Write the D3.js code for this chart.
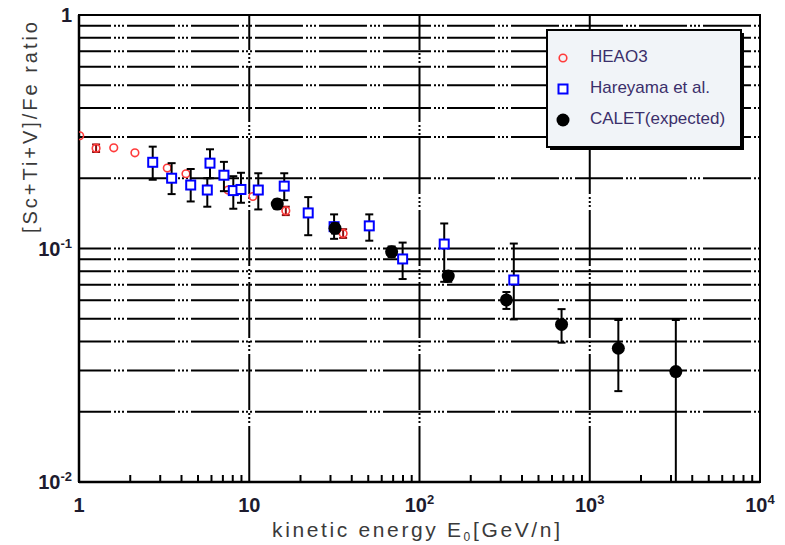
<!DOCTYPE html>
<html>
<head>
<meta charset="utf-8">
<script src="https://cdn.jsdelivr.net/npm/d3@7"></script>
<style>
  html, body { margin: 0; padding: 0; background: #fff; }
  svg { display: block; }
</style>
</head>
<body>
<svg id="chart" width="785" height="545"></svg>
<script>
// HEAO3 measurements: energy [GeV/n], ratio, symmetric error (null = none drawn)
const heaoE   = [1.01, 1.26, 1.6, 2.13, 3.3, 4.25, 5.64, 7.5, 10.5, 16.4, 35.6];
const heaoR   = [0.304, 0.269, 0.27, 0.257, 0.221, 0.209, 0.18, 0.178, 0.167, 0.145, 0.116];
const heaoErr = [null, 0.01, null, null, null, null, null, null, null, 0.006, 0.005];

// Hareyama et al.: energy, ratio, lower and upper error limits
const hareE  = [2.71, 3.5, 4.53, 5.88, 5.67, 7.1, 8.06, 8.94, 11.3, 16.05, 22.2, 31.5, 50.7, 79.6, 139.7, 358];
const hareR  = [0.234, 0.2, 0.187, 0.232, 0.178, 0.206, 0.177, 0.179, 0.178, 0.185, 0.142, 0.124, 0.125, 0.0902, 0.1045, 0.0733];
const hareLo = [0.197, 0.171, 0.159, 0.2, 0.151, 0.176, 0.148, 0.157, 0.147, 0.161, 0.114, 0.11, 0.108, 0.074, 0.072, 0.0497];
const hareHi = [0.273, 0.232, 0.219, 0.266, 0.2, 0.235, 0.204, 0.211, 0.21, 0.21, 0.166, 0.14, 0.14, 0.106, 0.128, 0.105];

// CALET expected performance
const caletE  = [14.6, 31.9, 68.6, 147.5, 324, 683, 1472, 3203];
const caletR  = [0.155, 0.122, 0.0969, 0.0762, 0.0602, 0.0473, 0.0374, 0.0297];
const caletLo = [0.148, 0.116, 0.092, 0.072, 0.0551, 0.0395, 0.0245, 0.005];
const caletHi = [0.162, 0.128, 0.102, 0.080, 0.0651, 0.055, 0.0494, 0.0494];

// Axis ticks
const xMajor = [1, 10, 100, 1000, 10000];
const xTickLabels = [["1", ""], ["10", ""], ["10", "2"], ["10", "3"], ["10", "4"]];
const yMajor = [1, 0.1, 0.01];
const yTickLabels = [["1", ""], ["10", "-1"], ["10", "-2"]];
const legendLabels = ["HEAO3", "Hareyama et al.", "CALET(expected)"];

const svg = d3.select("#chart");
const L = 79, R = 760, T = 15, B = 482;

const x = d3.scaleLog().domain([1, 1e4]).range([L, R]);
const y = d3.scaleLog().domain([0.01, 1]).range([B, T]);

svg.append("defs").append("clipPath").attr("id", "plotClip")
  .append("rect").attr("x", L).attr("y", T).attr("width", R - L).attr("height", B - T);

// minor decade values
const minorX = [];
[1, 10, 100, 1000].forEach(d => { for (let k = 2; k <= 9; k++) minorX.push(d * k); });
const gridY = [];
[0.01, 0.1].forEach(d => { for (let k = d === 0.1 ? 1 : 2; k <= 9; k++) gridY.push(+(d * k).toPrecision(3)); });

// horizontal dash-dot-dot-dot grid
const dashPattern = "48,3,2,2,2,2,2,3";
const grid = svg.append("g");
grid.selectAll("line.hg").data(gridY).join("line")
  .attr("class", "hg")
  .attr("x1", L).attr("x2", R)
  .attr("y1", d => y(d)).attr("y2", d => y(d))
  .attr("stroke", "#000").attr("stroke-width", 2)
  .attr("stroke-dasharray", dashPattern)
  .attr("stroke-dashoffset", 16);

// vertical grid at decades
grid.selectAll("line.vg").data([10, 100, 1000]).join("line")
  .attr("class", "vg")
  .attr("x1", d => x(d)).attr("x2", d => x(d))
  .attr("y1", B).attr("y2", T)
  .attr("stroke", "#000").attr("stroke-width", 2)
  .attr("stroke-dasharray", "56,3,2,2,2,2,2,3");

// minor ticks on the bottom axis (pointing inward)
grid.selectAll("line.mx").data(minorX).join("line")
  .attr("x1", d => x(d)).attr("x2", d => x(d))
  .attr("y1", B).attr("y2", B - 7)
  .attr("stroke", "#000").attr("stroke-width", 2);

// frame
svg.append("rect")
  .attr("x", L).attr("y", T).attr("width", R - L).attr("height", B - T)
  .attr("fill", "none").attr("stroke", "#000").attr("stroke-width", 2);
svg.append("line").attr("x1", L).attr("x2", R).attr("y1", B).attr("y2", B)
  .attr("stroke", "#000").attr("stroke-width", 2.5);
svg.append("line").attr("x1", L).attr("x2", L).attr("y1", T).attr("y2", B)
  .attr("stroke", "#000").attr("stroke-width", 2.5);

// tick labels
const tickColor = "#1d1b2e";
const xt = svg.append("g").attr("font-family", "Liberation Sans, Arial, sans-serif")
  .attr("font-weight", "bold").attr("fill", tickColor);
xMajor.forEach((v, i) => {
  const t = xt.append("text").attr("x", x(v)).attr("y", 512)
    .attr("text-anchor", "middle").attr("font-size", 20);
  t.append("tspan").text(xTickLabels[i][0]);
  if (xTickLabels[i][1]) t.append("tspan").attr("font-size", 13).attr("dy", -8).text(xTickLabels[i][1]);
});
yMajor.forEach((v, i) => {
  const t = xt.append("text").attr("x", 72).attr("y", y(v) + 7)
    .attr("text-anchor", "end").attr("font-size", 20);
  t.append("tspan").text(yTickLabels[i][0]);
  if (yTickLabels[i][1]) t.append("tspan").attr("font-size", 13).attr("dy", -8).text(yTickLabels[i][1]);
});

// axis titles
const titleColor = "#3a3a3a";
const xTitle = svg.append("text").attr("x", 272).attr("y", 537)
  .attr("font-family", "Liberation Sans, Arial, sans-serif").attr("font-size", 21)
  .attr("fill", titleColor).attr("textLength", 288).attr("lengthAdjust", "spacing");
xTitle.append("tspan").text("kinetic energy E");
xTitle.append("tspan").attr("font-size", 12).attr("dy", 4).text("0");
xTitle.append("tspan").attr("dy", -4).text("[GeV/n]");

svg.append("text")
  .attr("transform", "translate(37,233) rotate(-90)")
  .attr("font-family", "Liberation Sans, Arial, sans-serif").attr("font-size", 20)
  .attr("fill", titleColor).attr("textLength", 211).attr("lengthAdjust", "spacing")
  .text("[Sc+Ti+V]/Fe ratio");

// data layer
const plot = svg.append("g").attr("clip-path", "url(#plotClip)");
const cap = 4;

function errorBars(g, E, lo, hi, color) {
  const d = E.map((e, i) => ({ e, lo: lo[i], hi: hi[i] })).filter(p => p.lo != null);
  const eg = g.append("g").attr("stroke", color).attr("stroke-width", 2);
  eg.selectAll("line.v").data(d).join("line")
    .attr("x1", p => x(p.e)).attr("x2", p => x(p.e))
    .attr("y1", p => y(p.lo)).attr("y2", p => y(p.hi));
  eg.selectAll("line.lo").data(d).join("line")
    .attr("x1", p => x(p.e) - cap).attr("x2", p => x(p.e) + cap)
    .attr("y1", p => y(p.lo)).attr("y2", p => y(p.lo));
  eg.selectAll("line.hi").data(d).join("line")
    .attr("x1", p => x(p.e) - cap).attr("x2", p => x(p.e) + cap)
    .attr("y1", p => y(p.hi)).attr("y2", p => y(p.hi));
}

// HEAO3
errorBars(plot, heaoE,
  heaoErr.map((e, i) => e == null ? null : heaoR[i] - e),
  heaoErr.map((e, i) => e == null ? null : heaoR[i] + e), "#8a1010");
plot.append("g").selectAll("circle").data(heaoE).join("circle")
  .attr("cx", d => x(d)).attr("cy", (d, i) => y(heaoR[i])).attr("r", 3.8)
  .attr("fill", "none").attr("stroke", "#ff3b3b").attr("stroke-width", 1.6);

// Hareyama et al.
errorBars(plot, hareE, hareLo, hareHi, "#000");
plot.append("g").selectAll("rect").data(hareE).join("rect")
  .attr("x", d => x(d) - 4.5).attr("y", (d, i) => y(hareR[i]) - 4.5)
  .attr("width", 9).attr("height", 9)
  .attr("fill", "#fff").attr("stroke", "#0000ff").attr("stroke-width", 2);

// CALET
errorBars(plot, caletE, caletLo, caletHi, "#000");
plot.append("g").selectAll("circle").data(caletE).join("circle")
  .attr("cx", d => x(d)).attr("cy", (d, i) => y(caletR[i])).attr("r", 6.5)
  .attr("fill", "#000");

// legend
const lg = svg.append("g");
lg.append("rect").attr("x", 550).attr("y", 33).attr("width", 194).attr("height", 117).attr("fill", "#000");
lg.append("rect").attr("x", 547).attr("y", 30).attr("width", 194).attr("height", 117)
  .attr("fill", "#f1f4f8").attr("stroke", "#000").attr("stroke-width", 2);
const ly = [58, 89, 120];
lg.append("circle").attr("cx", 563).attr("cy", ly[0]).attr("r", 3.8)
  .attr("fill", "none").attr("stroke", "#ff3b3b").attr("stroke-width", 1.6);
lg.append("rect").attr("x", 558.5).attr("y", ly[1] - 4.5).attr("width", 9).attr("height", 9)
  .attr("fill", "#fff").attr("stroke", "#0000ff").attr("stroke-width", 2);
lg.append("circle").attr("cx", 563).attr("cy", ly[2]).attr("r", 6.5).attr("fill", "#000");
lg.selectAll("text").data(legendLabels).join("text")
  .attr("x", 590).attr("y", (d, i) => ly[i] + 4)
  .attr("font-family", "Liberation Sans, Arial, sans-serif").attr("font-size", 17)
  .attr("fill", "#3b2f6b")
  .text(d => d);
</script>
</body>
</html>
